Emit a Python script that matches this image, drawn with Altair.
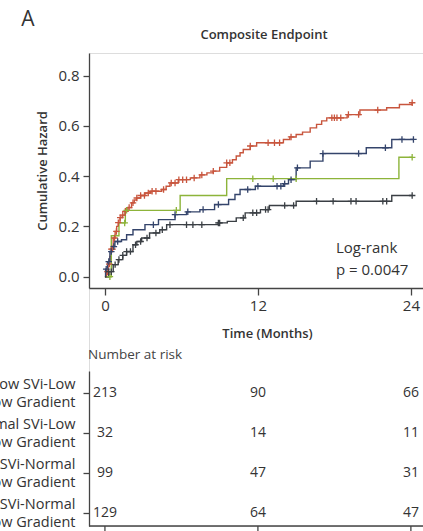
import altair as alt
import pandas as pd
import numpy as np

# ---------------- data ----------------
groups = ["Low SVi-Low", "Normal SVi-Low", "Low SVi-Normal", "Normal SVi-Normal"]
label_line2 = ["Low Gradient", "Low Gradient", "Low Gradient", "Low Gradient"]
colors = ["#c8553d", "#8db43a", "#34446b", "#3a3f44"]

# step curves (time in months, cumulative hazard)
red_t = [0, 0.13, 0.25, 0.39, 0.5, 0.65, 0.8, 0.92, 1.05, 1.18, 1.35, 1.57, 1.8, 2.09, 2.3, 2.48,
         2.8, 3.14, 3.6, 4.45, 4.8, 5.1, 5.75, 6.7, 7.45, 8.0, 8.5, 9.0, 9.55, 10.0, 10.3, 10.6,
         10.85, 11.4, 11.9, 14.0, 14.5, 15.0, 15.5, 16.1, 16.6, 17.0, 17.4, 19.0, 20.0, 22.1,
         23.1, 24.1]
red_v = [0, 0.02, 0.05, 0.081, 0.11, 0.154, 0.18, 0.2, 0.215, 0.235, 0.245, 0.26, 0.275, 0.294,
         0.305, 0.313, 0.323, 0.333, 0.34, 0.347, 0.36, 0.373, 0.386, 0.393, 0.405, 0.413, 0.42,
         0.435, 0.453, 0.465, 0.48, 0.493, 0.506, 0.52, 0.533, 0.546, 0.556, 0.566, 0.575, 0.592,
         0.606, 0.62, 0.632, 0.645, 0.663, 0.672, 0.685, 0.692]
red_c = [0.2, 0.35, 0.5, 0.6, 0.75, 0.9, 1.05, 1.2, 1.4, 1.6, 1.9, 2.2, 2.5, 2.8, 3.1, 3.4, 3.7,
         4.0, 4.6, 5.2, 5.5, 5.8, 6.1, 6.4, 7.0, 7.6, 8.5, 9.55, 9.8, 11.4, 12.8, 13.3, 13.7, 14.6,
         17.8, 18.0, 18.2, 18.5, 19.1, 19.9, 21.4, 24.1]

green_t = [0, 0.5, 1.1, 1.6, 5.9, 9.55, 23.06, 24.1]
green_v = [0, 0.163, 0.214, 0.264, 0.323, 0.39, 0.475, 0.475]
green_c = [0.39, 1.55, 1.7, 5.6, 11.6, 13.2, 15.0, 24.1]

navy_t = [0, 0.05, 0.2, 0.39, 0.55, 0.78, 1.3, 1.7, 2.2, 3.14, 4.2, 5.5, 6.4, 7.45, 8.6, 9.7,
          10.2, 10.6, 11.8, 14.0, 14.4, 15.0, 16.1, 17.1, 20.5, 22.5, 24.2]
navy_v = [0, 0.03, 0.06, 0.1, 0.12, 0.14, 0.147, 0.167, 0.187, 0.207, 0.227, 0.247, 0.258, 0.267,
          0.287, 0.307, 0.327, 0.347, 0.36, 0.37, 0.386, 0.433, 0.46, 0.49, 0.513, 0.546, 0.546]
navy_c = [0.1, 0.3, 0.5, 0.7, 1.0, 3.8, 5.5, 6.5, 7.7, 8.9, 11.2, 12.0, 13.5, 13.8, 14.1, 14.6,
          15.1, 17.1, 19.9, 22.0, 23.3, 24.2]

dark_t = [0, 0.3, 0.65, 1.04, 1.4, 1.7, 2.2, 2.5, 2.88, 3.5, 4.3, 4.84, 8.9, 9.6, 10.3, 11.0,
          12.2, 12.9, 15.0, 22.5, 24.1]
dark_v = [0, 0.02, 0.048, 0.068, 0.085, 0.1, 0.127, 0.14, 0.154, 0.174, 0.187, 0.207, 0.214,
          0.22, 0.234, 0.254, 0.267, 0.283, 0.30, 0.323, 0.323]
dark_c = [0.3, 0.5, 0.8, 1.1, 1.4, 1.7, 2.0, 2.4, 2.8, 3.3, 4.0, 4.5, 5.1, 6.4, 6.9, 7.6, 8.9,
          9.0, 10.85, 11.6, 11.9, 12.6, 12.8, 14.1, 14.8, 16.6, 17.9, 19.3, 19.7, 21.8, 22.1, 24.1]

risk_times = [0, 12, 24]
risk_counts = [[213, 90, 66], [32, 14, 11], [99, 47, 31], [129, 64, 47]]

x_ticks = [0, 12, 24]
y_ticks = [0, 0.2, 0.4, 0.6, 0.8]

series = {
    groups[0]: (red_t, red_v, red_c),
    groups[1]: (green_t, green_v, green_c),
    groups[2]: (navy_t, navy_v, navy_c),
    groups[3]: (dark_t, dark_v, dark_c),
}

line_rows, cens_rows = [], []
for g, (t, v, c) in series.items():
    for ti, vi in zip(t, v):
        line_rows.append({"group": g, "time": ti, "value": vi})
    ta = np.array(t)
    for ci in c:
        idx = max(int(np.searchsorted(ta, ci, side="right")) - 1, 0)
        cens_rows.append({"group": g, "time": ci, "value": v[idx]})
df_lines = pd.DataFrame(line_rows)
df_cens = pd.DataFrame(cens_rows)

risk_rows = []
for i, g in enumerate(groups):
    for tt, n in zip(risk_times, risk_counts[i]):
        risk_rows.append({"row": i, "time": tt, "count": str(n)})
df_risk = pd.DataFrame(risk_rows)
df_ticks = pd.DataFrame({"time": x_ticks})

# ---------------- layout ----------------
FONT = "Open Sans"
TXT = "#333333"
AX = "#444444"
W, H = 334, 473
CURVE_H = 235
TAB_TOP, TAB_BOT = 318, 473

x_enc = alt.X(
    "time:Q",
    scale=alt.Scale(domain=[-1.25, 24.95], nice=False, zero=False),
    axis=alt.Axis(values=x_ticks, title="Time (Months)", offset=-(H - CURVE_H), tickSize=7,
                  labelFontSize=15, labelPadding=3, labelColor=TXT, labelFont=FONT,
                  titleFontSize=13, titleFontWeight=600, titleColor=TXT, titleFont=FONT,
                  titleX=178, titleY=45, titleBaseline="middle",
                  grid=False, domainColor=AX, tickColor=AX, domainWidth=1.3, tickWidth=1.3),
)

y_curve = alt.Y(
    "value:Q",
    scale=alt.Scale(domain=[-0.045, 0.89], range=[CURVE_H, 0], nice=False, zero=False),
    axis=alt.Axis(values=y_ticks, format=".1f", title="Cumulative Hazard", tickSize=6,
                  labelFontSize=15, labelPadding=4, labelColor=TXT, labelFont=FONT,
                  titleFontSize=13, titleFontWeight=600, titleColor=TXT, titleFont=FONT,
                  titleX=-47, titleY=CURVE_H / 2, titleAngle=-90, titleBaseline="middle",
                  titleAlign="center",
                  grid=False, domainColor=AX, tickColor=AX, domainWidth=1.3, tickWidth=1.3),
)

color_enc = alt.Color("group:N", scale=alt.Scale(domain=groups, range=colors), legend=None)

lines = alt.Chart(df_lines).mark_line(interpolate="step-after", strokeWidth=1.4).encode(
    x=x_enc, y=y_curve, color=color_enc, detail="group:N"
)
cens = alt.Chart(df_cens).mark_point(
    shape="M-1,0L1,0M0,-1L0,1", size=42, strokeWidth=1.3, filled=False, opacity=1
).encode(x=x_enc, y=y_curve, color=color_enc)

one = alt.Data(values=[{}])


def label(text, x, y, size, weight=400, align="left", color=TXT):
    return alt.Chart(one).mark_text(
        text=text, fontSize=size, fontWeight=weight, align=align, baseline="middle",
        font=FONT, color=color
    ).encode(x=alt.value(x), y=alt.value(y))


ann_A = label("A", -61, -33, 21, align="center")
ann_title = label("Composite Endpoint", 175, -18, 13, weight=600, align="center")
ann_lr1 = label("Log-rank", 247, 195, 15)
ann_lr2 = label("p = 0.0047", 247, 217, 15)
ann_nar = label("Number at risk", -1, 302, 13.5, color="#444444")

curves = alt.layer(lines, cens, ann_A, ann_title, ann_lr1, ann_lr2, ann_nar)

label_arr = "[" + ",".join(
    "['" + g + "','" + l2 + "']" for g, l2 in zip(groups, label_line2)
) + "]"

y_tab = alt.Y(
    "row:Q",
    scale=alt.Scale(domain=[-0.55, 3.325], range=[TAB_TOP, TAB_BOT], nice=False, zero=False),
    axis=alt.Axis(orient="left", values=[0, 1, 2, 3], labelExpr=label_arr + "[datum.value]",
                  title=None, tickSize=6, labelPadding=8, labelFontSize=14.5, labelLineHeight=18,
                  labelAlign="right", labelBaseline="middle", labelOffset=-9, labelOverlap=False,
                  labelColor=TXT, labelFont=FONT,
                  grid=False, domainColor=AX, tickColor=AX, domainWidth=1.3, tickWidth=1.3),
)

risk_text = alt.Chart(df_risk).mark_text(fontSize=14, font=FONT, color=TXT).encode(
    x=x_enc, y=y_tab, text="count:N"
)
tab_base = alt.Chart(one).mark_rule(color=AX, strokeWidth=1.3).encode(
    x=alt.value(0), x2=alt.value(W), y=alt.value(TAB_BOT)
)
tab_ticks = alt.Chart(df_ticks).mark_rule(color=AX, strokeWidth=1.3).encode(
    x=x_enc, y=alt.value(TAB_BOT), y2=alt.value(TAB_BOT + 7)
)
table = alt.layer(risk_text, tab_base, tab_ticks)

chart = alt.layer(curves, table).resolve_scale(y="independent").properties(
    width=W, height=H,
    autosize=alt.AutoSizeParams(type="none"),
    padding={"left": 89, "top": 53, "right": 0, "bottom": 5},
).configure_view(stroke=None).configure(font=FONT, background="white")

chart.save("out.html", embed_options={"renderer": "svg", "actions": False})
